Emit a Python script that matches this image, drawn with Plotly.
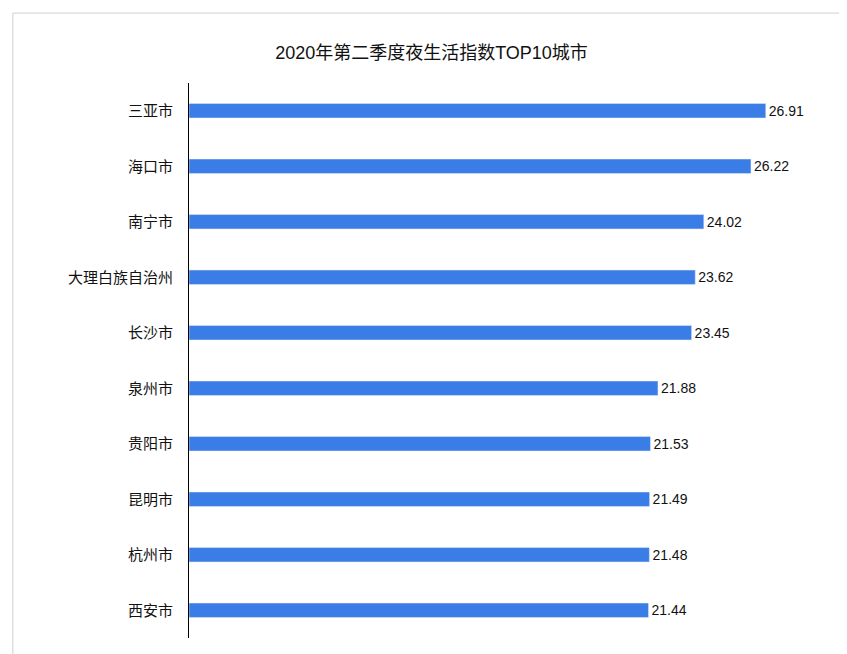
import plotly.graph_objects as go

cities = ["三亚市", "海口市", "南宁市", "大理白族自治州", "长沙市", "泉州市", "贵阳市", "昆明市", "杭州市", "西安市"]
values = [26.91, 26.22, 24.02, 23.62, 23.45, 21.88, 21.53, 21.49, 21.48, 21.44]

fig = go.Figure(go.Bar(
    x=values, y=cities, orientation="h",
    marker_color="#3b7de6", width=0.26,
    text=[f"{v:.2f}" for v in values], textposition="outside",
    constraintext="none",
    textfont=dict(size=14, color="#111", family="Liberation Sans"), cliponaxis=False,
))

fig.update_layout(
    width=847, height=654,
    margin=dict(l=181, r=23, t=75, b=24, autoexpand=False),
    paper_bgcolor="white", plot_bgcolor="white",
    font=dict(family="Liberation Sans, Noto Sans CJK SC", color="#111"),
    title=dict(text="2020年第二季度夜生活指数TOP10城市", x=0.5, xanchor="center",
               y=1 - 45 / 654, yanchor="middle", font=dict(size=18, color="#111")),
    xaxis=dict(range=[0, 30], visible=False, automargin=False),
    yaxis=dict(autorange="reversed", showline=True, linecolor="#000", linewidth=1, automargin=False,
               ticks="", showgrid=False, tickfont=dict(size=15, color="#111"), ticklabelstandoff=12),
    showlegend=False,
    shapes=[dict(type="rect", xref="paper", yref="paper", x0=-0.274, x1=1.028, y0=-0.032, y1=1.126,
                 line=dict(color="#d0d0d0", width=1))],
)

fig.write_html("out.html")
